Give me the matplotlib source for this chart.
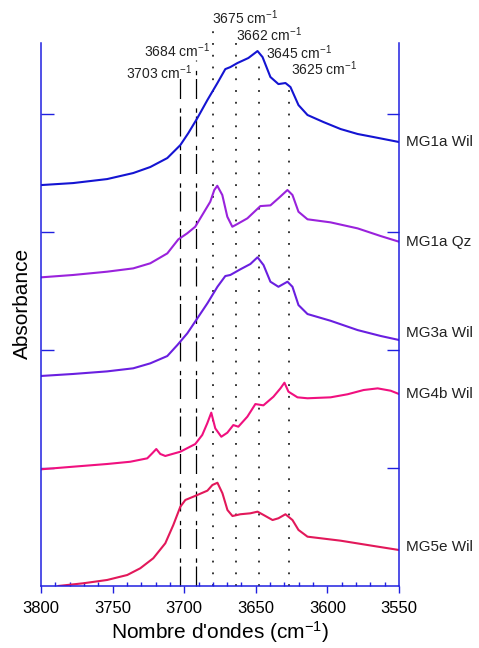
"""Spectres IR de la zone OH — courbes décalées avec bandes repérées."""

import matplotlib.pyplot as plt

plt.rcParams['font.family'] = ['Liberation Sans', 'DejaVu Sans']
plt.rcParams['mathtext.default'] = 'regular'

# spectres (nombre d'ondes en cm-1, absorbance décalée)
wil1a_x = [3800, 3777.6, 3753.8, 3735.6, 3723.7, 3711.8, 3702.7, 3697.1, 3690.8, 3683.8,
           3676.8, 3671.3, 3667.8, 3662.9, 3655.2, 3648.8, 3645.3, 3639.8, 3634.2, 3629.3,
           3625.8, 3620.2, 3613.9, 3602.7, 3590.8, 3578.9, 3567.7, 3550]
wil1a_y = [3.398, 3.415, 3.449, 3.500, 3.551, 3.627, 3.737, 3.839, 3.966, 4.119,
           4.263, 4.381, 4.398, 4.432, 4.475, 4.534, 4.483, 4.314, 4.254, 4.263,
           4.229, 4.076, 3.992, 3.932, 3.873, 3.831, 3.805, 3.763]

qz1a_x = [3800, 3777.6, 3753.8, 3735.6, 3723.7, 3711.8, 3704.1, 3697.9, 3692.3, 3686.7,
          3681.8, 3679.0, 3676.9, 3673.4, 3669.9, 3666.4, 3662.9, 3655.9, 3646.8, 3639.8,
          3634.2, 3627.9, 3624.4, 3620.2, 3613.9, 3597.8, 3578.9, 3562.8, 3550]
qz1a_y = [2.616, 2.636, 2.664, 2.692, 2.735, 2.819, 2.938, 2.989, 3.045, 3.158,
          3.257, 3.356, 3.392, 3.314, 3.130, 3.045, 3.068, 3.116, 3.220, 3.226,
          3.286, 3.356, 3.314, 3.172, 3.108, 3.082, 3.031, 2.966, 2.918]

wil3a_x = [3800, 3777.6, 3753.8, 3735.6, 3723.7, 3711.8, 3704.8, 3697.8, 3690.8, 3683.8,
           3676.8, 3671.3, 3667.8, 3660.8, 3653.8, 3648.8, 3644.6, 3639.8, 3634.2, 3627.9,
           3624.4, 3620.2, 3613.9, 3597.8, 3578.9, 3562.8, 3550]
wil3a_y = [1.780, 1.797, 1.819, 1.845, 1.887, 1.949, 2.042, 2.142, 2.269, 2.396,
           2.536, 2.627, 2.636, 2.684, 2.729, 2.786, 2.720, 2.579, 2.536, 2.579,
           2.536, 2.381, 2.305, 2.248, 2.169, 2.119, 2.085]

wil4b_x = [3800, 3777.6, 3753.8, 3737.7, 3725.8, 3722.3, 3719.5, 3716.7, 3713.2, 3702.7,
           3692.3, 3687.4, 3683.9, 3681.1, 3678.3, 3674.1, 3669.9, 3665.7, 3662.2, 3655.9,
           3650.3, 3644.7, 3637.7, 3632.8, 3630.0, 3627.2, 3620.9, 3613.9, 3597.8, 3585.9,
           3574.7, 3564.9, 3555.8, 3550]
wil4b_y = [0.989, 1.011, 1.034, 1.053, 1.082, 1.125, 1.161, 1.119, 1.102, 1.138,
           1.203, 1.280, 1.379, 1.469, 1.336, 1.265, 1.299, 1.364, 1.350, 1.435,
           1.542, 1.531, 1.604, 1.675, 1.723, 1.647, 1.599, 1.591, 1.599, 1.625,
           1.661, 1.675, 1.655, 1.627]

wil5e_x = [3788, 3770.4, 3753.8, 3739.8, 3730.7, 3721.6, 3713.2, 3707.6, 3702.7, 3699.2,
           3693.6, 3683.8, 3680.3, 3676.8, 3673.3, 3669.8, 3666.3, 3660.8, 3653.8, 3648.8,
           3644.6, 3638.3, 3634.2, 3629.3, 3624.4, 3620.2, 3613.9, 3590.8, 3567.7, 3550]
wil5e_y = [0.000, 0.023, 0.051, 0.093, 0.150, 0.235, 0.362, 0.517, 0.672, 0.729,
           0.757, 0.808, 0.856, 0.875, 0.786, 0.644, 0.593, 0.608, 0.616, 0.630,
           0.602, 0.559, 0.574, 0.608, 0.559, 0.475, 0.418, 0.384, 0.339, 0.305]

series = [
    ("MG1a Wil", wil1a_x, wil1a_y, "#1414d2"),
    ("MG1a Qz", qz1a_x, qz1a_y, "#9a22dc"),
    ("MG3a Wil", wil3a_x, wil3a_y, "#6a1fe0"),
    ("MG4b Wil", wil4b_x, wil4b_y, "#f0107f"),
    ("MG5e Wil", wil5e_x, wil5e_y, "#e2185a"),
]

# bandes OH repérées : position tracée, libellé
band_pos = [3703, 3692, 3680, 3664, 3648, 3627]
band_names = ["3703", "3684", "3675", "3662", "3645", "3625"]
band_top = [4.305, 4.458, 4.73, 4.63, 4.44, 4.27]
band_style = ["dash", "dash", "dot", "dot", "dot", "dot"]
label_xy = [(3717.4, 4.347), (3704.8, 4.534), (3657.3, 4.815),
            (3640.5, 4.669), (3620.2, 4.517), (3602.7, 4.381)]
name_dy = [0, 0, 5, 0, 2]

axis_col = "#2020e0"

fig = plt.figure(figsize=(4.79, 6.48), dpi=100)
ax = fig.add_axes([0.0856, 0.0957, 0.7474, 0.8379])

for (name, xs, ys, col), dy in zip(series, name_dy):
    ax.plot(xs, ys, color=col, lw=1.5, solid_capstyle="round")
    ax.annotate(name, xy=(xs[-1], ys[-1]), xytext=(5, dy), textcoords="offset points",
                ha="left", va="center", fontsize=11, color="#222222",
                annotation_clip=False)

for pos, top, st in zip(band_pos, band_top, band_style):
    ls = (0, (16, 3, 3.5, 7.5)) if st == "dash" else (0, (1.2, 6.5))
    ax.plot([pos, pos], [0, top], color="black", lw=0.9 if st == "dash" else 1.1,
            ls=ls, clip_on=False, zorder=1)

for name, (lx, ly) in zip(band_names, label_xy):
    ax.text(lx, ly, name + " cm$^{-1}$", ha="center", va="center", fontsize=10,
            color="#222222", clip_on=False)

ax.set_xlim(3800, 3550)
ax.set_ylim(0, 4.602)
ax.set_xticks(range(3800, 3549, -50))
ax.set_xticks(range(3790, 3550, -10), minor=True)
ax.set_yticks([1, 2, 3, 4])
ax.set_yticklabels([])
ax.tick_params(axis="x", which="major", direction="out", length=5, width=1,
               color=axis_col, labelsize=12, pad=6)
ax.tick_params(axis="x", which="minor", direction="in", length=3, width=1, color=axis_col)
ax.tick_params(axis="y", direction="in", length=9, width=1, color=axis_col,
               left=True, right=True)

ax.spines["top"].set_visible(False)
for side in ("left", "right", "bottom"):
    ax.spines[side].set_color(axis_col)
    ax.spines[side].set_linewidth(1.1)

ax.set_xlabel("Nombre d'ondes (cm$^{-1}$)", fontsize=15, labelpad=2)
ax.set_ylabel("Absorbance", fontsize=15)
ax.yaxis.set_label_coords(-0.025, 0.52)

fig.savefig("out.png", dpi=100)
